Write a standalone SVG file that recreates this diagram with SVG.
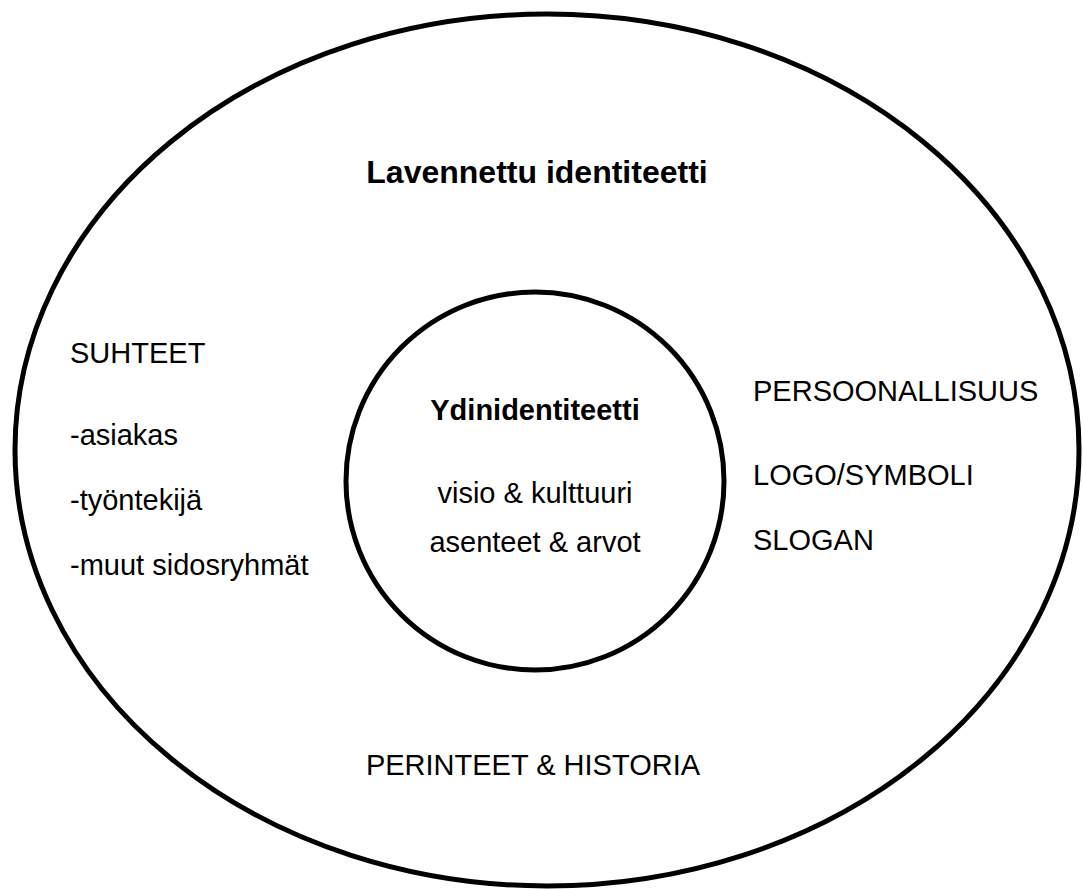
<svg xmlns="http://www.w3.org/2000/svg" width="1083" height="889" viewBox="0 0 1083 889">
<style>
.shape{fill:none;stroke:#000;stroke-width:5}
text{font-family:"Liberation Sans",Arial,sans-serif;fill:#000}
.t{font-size:29px}
.b{font-weight:bold}
</style>
<rect width="1083" height="889" fill="#fff"/>
<g id="outer">
<ellipse class="shape" cx="547" cy="450" rx="532" ry="436"/>
<text class="b" x="537" y="183" font-size="32" text-anchor="middle">Lavennettu identiteetti</text>
</g>
<g id="inner">
<circle class="shape" cx="535" cy="481" r="189"/>
<text class="t b" x="535" y="420" text-anchor="middle">Ydinidentiteetti</text>
<text class="t" x="535" y="503" text-anchor="middle">visio &amp; kulttuuri</text>
<text class="t" x="535" y="552" text-anchor="middle">asenteet &amp; arvot</text>
</g>
<g id="suhteet">
<text class="t" x="70" y="363">SUHTEET</text>
<text class="t" x="70" y="445">-asiakas</text>
<text class="t" x="70" y="510">-työntekijä</text>
<text class="t" x="70" y="575">-muut sidosryhmät</text>
</g>
<g id="right">
<text class="t" x="753" y="401">PERSOONALLISUUS</text>
<text class="t" x="753" y="485">LOGO/SYMBOLI</text>
<text class="t" x="753" y="550">SLOGAN</text>
</g>
<g id="perinteet">
<text class="t" x="533" y="775" text-anchor="middle">PERINTEET &amp; HISTORIA</text>
</g>
<g id="connectors"/>
</svg>
